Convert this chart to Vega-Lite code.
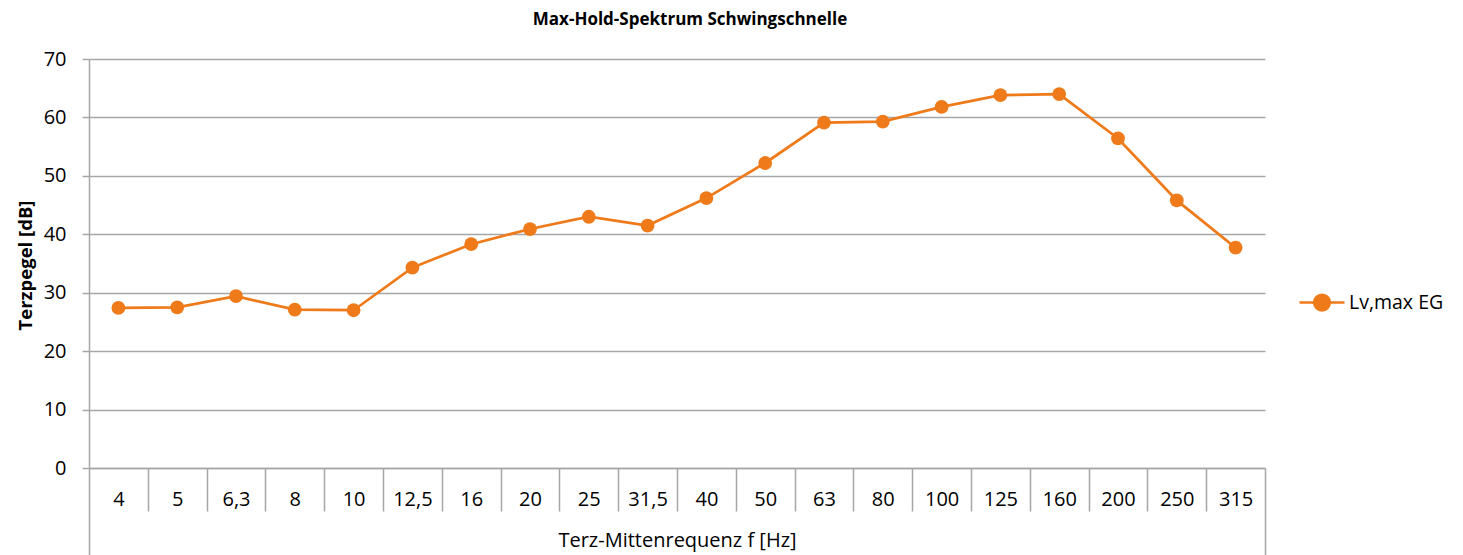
{
  "$schema": "https://vega.github.io/schema/vega-lite/v6.json",
  "autosize": {"type": "none"},
  "width": 1176,
  "height": 409,
  "padding": {"left": 89, "top": 59, "right": 198, "bottom": 87},
  "background": "white",
  "title": {
    "text": "Max-Hold-Spektrum Schwingschnelle",
    "font": "Open Sans",
    "fontSize": 17,
    "fontWeight": "bold",
    "color": "#000000",
    "anchor": "middle",
    "baseline": "alphabetic",
    "offset": 7,
    "dx": 13
  },
  "config": {
    "view": {"stroke": null},
    "axis": {"labelFont": "Open Sans", "titleFont": "Open Sans", "labelColor": "#000000", "titleColor": "#000000"}
  },
  "data": {
    "values": [
      {"f": "4", "L": 27.4, "s": "Lv,max EG"},
      {"f": "5", "L": 27.5, "s": "Lv,max EG"},
      {"f": "6,3", "L": 29.4, "s": "Lv,max EG"},
      {"f": "8", "L": 27.1, "s": "Lv,max EG"},
      {"f": "10", "L": 27.0, "s": "Lv,max EG"},
      {"f": "12,5", "L": 34.3, "s": "Lv,max EG"},
      {"f": "16", "L": 38.3, "s": "Lv,max EG"},
      {"f": "20", "L": 40.9, "s": "Lv,max EG"},
      {"f": "25", "L": 43.0, "s": "Lv,max EG"},
      {"f": "31,5", "L": 41.5, "s": "Lv,max EG"},
      {"f": "40", "L": 46.2, "s": "Lv,max EG"},
      {"f": "50", "L": 52.2, "s": "Lv,max EG"},
      {"f": "63", "L": 59.1, "s": "Lv,max EG"},
      {"f": "80", "L": 59.3, "s": "Lv,max EG"},
      {"f": "100", "L": 61.8, "s": "Lv,max EG"},
      {"f": "125", "L": 63.8, "s": "Lv,max EG"},
      {"f": "160", "L": 64.0, "s": "Lv,max EG"},
      {"f": "200", "L": 56.4, "s": "Lv,max EG"},
      {"f": "250", "L": 45.8, "s": "Lv,max EG"},
      {"f": "315", "L": 37.7, "s": "Lv,max EG"}
    ]
  },
  "encoding": {
    "x": {
      "field": "f",
      "type": "nominal",
      "sort": null,
      "scale": {"type": "band", "paddingInner": 0, "paddingOuter": 0},
      "axis": {
        "title": "Terz-Mittenrequenz f [Hz]",
        "titleFontSize": 20,
        "titleFontWeight": "normal",
        "titleY": 72,
        "titleBaseline": "middle",
        "labelAngle": 0,
        "labelFontSize": 20,
        "labelBaseline": "middle",
        "labelPadding": {"condition": {"test": "datum.index == 1", "value": -56}, "value": -12},
        "labelFlush": false,
        "tickBand": "extent",
        "tickColor": "#a6a6a6",
        "tickWidth": 1.5,
        "tickSize": {"condition": {"test": "datum.index == 1 || datum.index < 0 || !!datum.extra", "value": 87}, "value": 43},
        "domainColor": "#a6a6a6",
        "domainWidth": 1.5,
        "grid": false
      }
    },
    "y": {
      "field": "L",
      "type": "quantitative",
      "scale": {"domain": [0, 70], "nice": false},
      "axis": {
        "title": "Terzpegel [dB]",
        "titleFontSize": 18.5,
        "titleFontWeight": "bold",
        "titleX": -64,
        "titleY": 206,
        "titleAngle": 270,
        "titleBaseline": "middle",
        "titleAlign": "center",
        "values": [0, 10, 20, 30, 40, 50, 60, 70],
        "labelFontSize": 20,
        "labelPadding": 16,
        "tickSize": 7,
        "tickColor": "#a6a6a6",
        "tickWidth": 1.5,
        "domainColor": "#a6a6a6",
        "domainWidth": 1.5,
        "grid": true,
        "gridColor": "#a6a6a6",
        "gridWidth": 1.5
      }
    },
    "color": {
      "field": "s",
      "type": "nominal",
      "scale": {"range": ["#EF7A1A"]},
      "legend": {
        "title": null,
        "orient": "none",
        "legendX": 1209,
        "legendY": 219.5,
        "symbolType": "M-1,0H-0.35M0.35,0H1M-0.35,0A0.35,0.35 0 1,1 0.35,0A0.35,0.35 0 1,1 -0.35,0Z",
        "symbolSize": 2025,
        "symbolStrokeWidth": 2.5,
        "symbolFillColor": "#EF7A1A",
        "symbolStrokeColor": "#EF7A1A",
        "labelFont": "Open Sans",
        "labelFontSize": 19.5,
        "labelColor": "#000000",
        "labelOffset": 3
      }
    }
  },
  "layer": [
    {"mark": {"type": "line", "strokeWidth": 2.75}},
    {"mark": {"type": "point", "filled": true, "size": 190, "opacity": 1}}
  ]
}
